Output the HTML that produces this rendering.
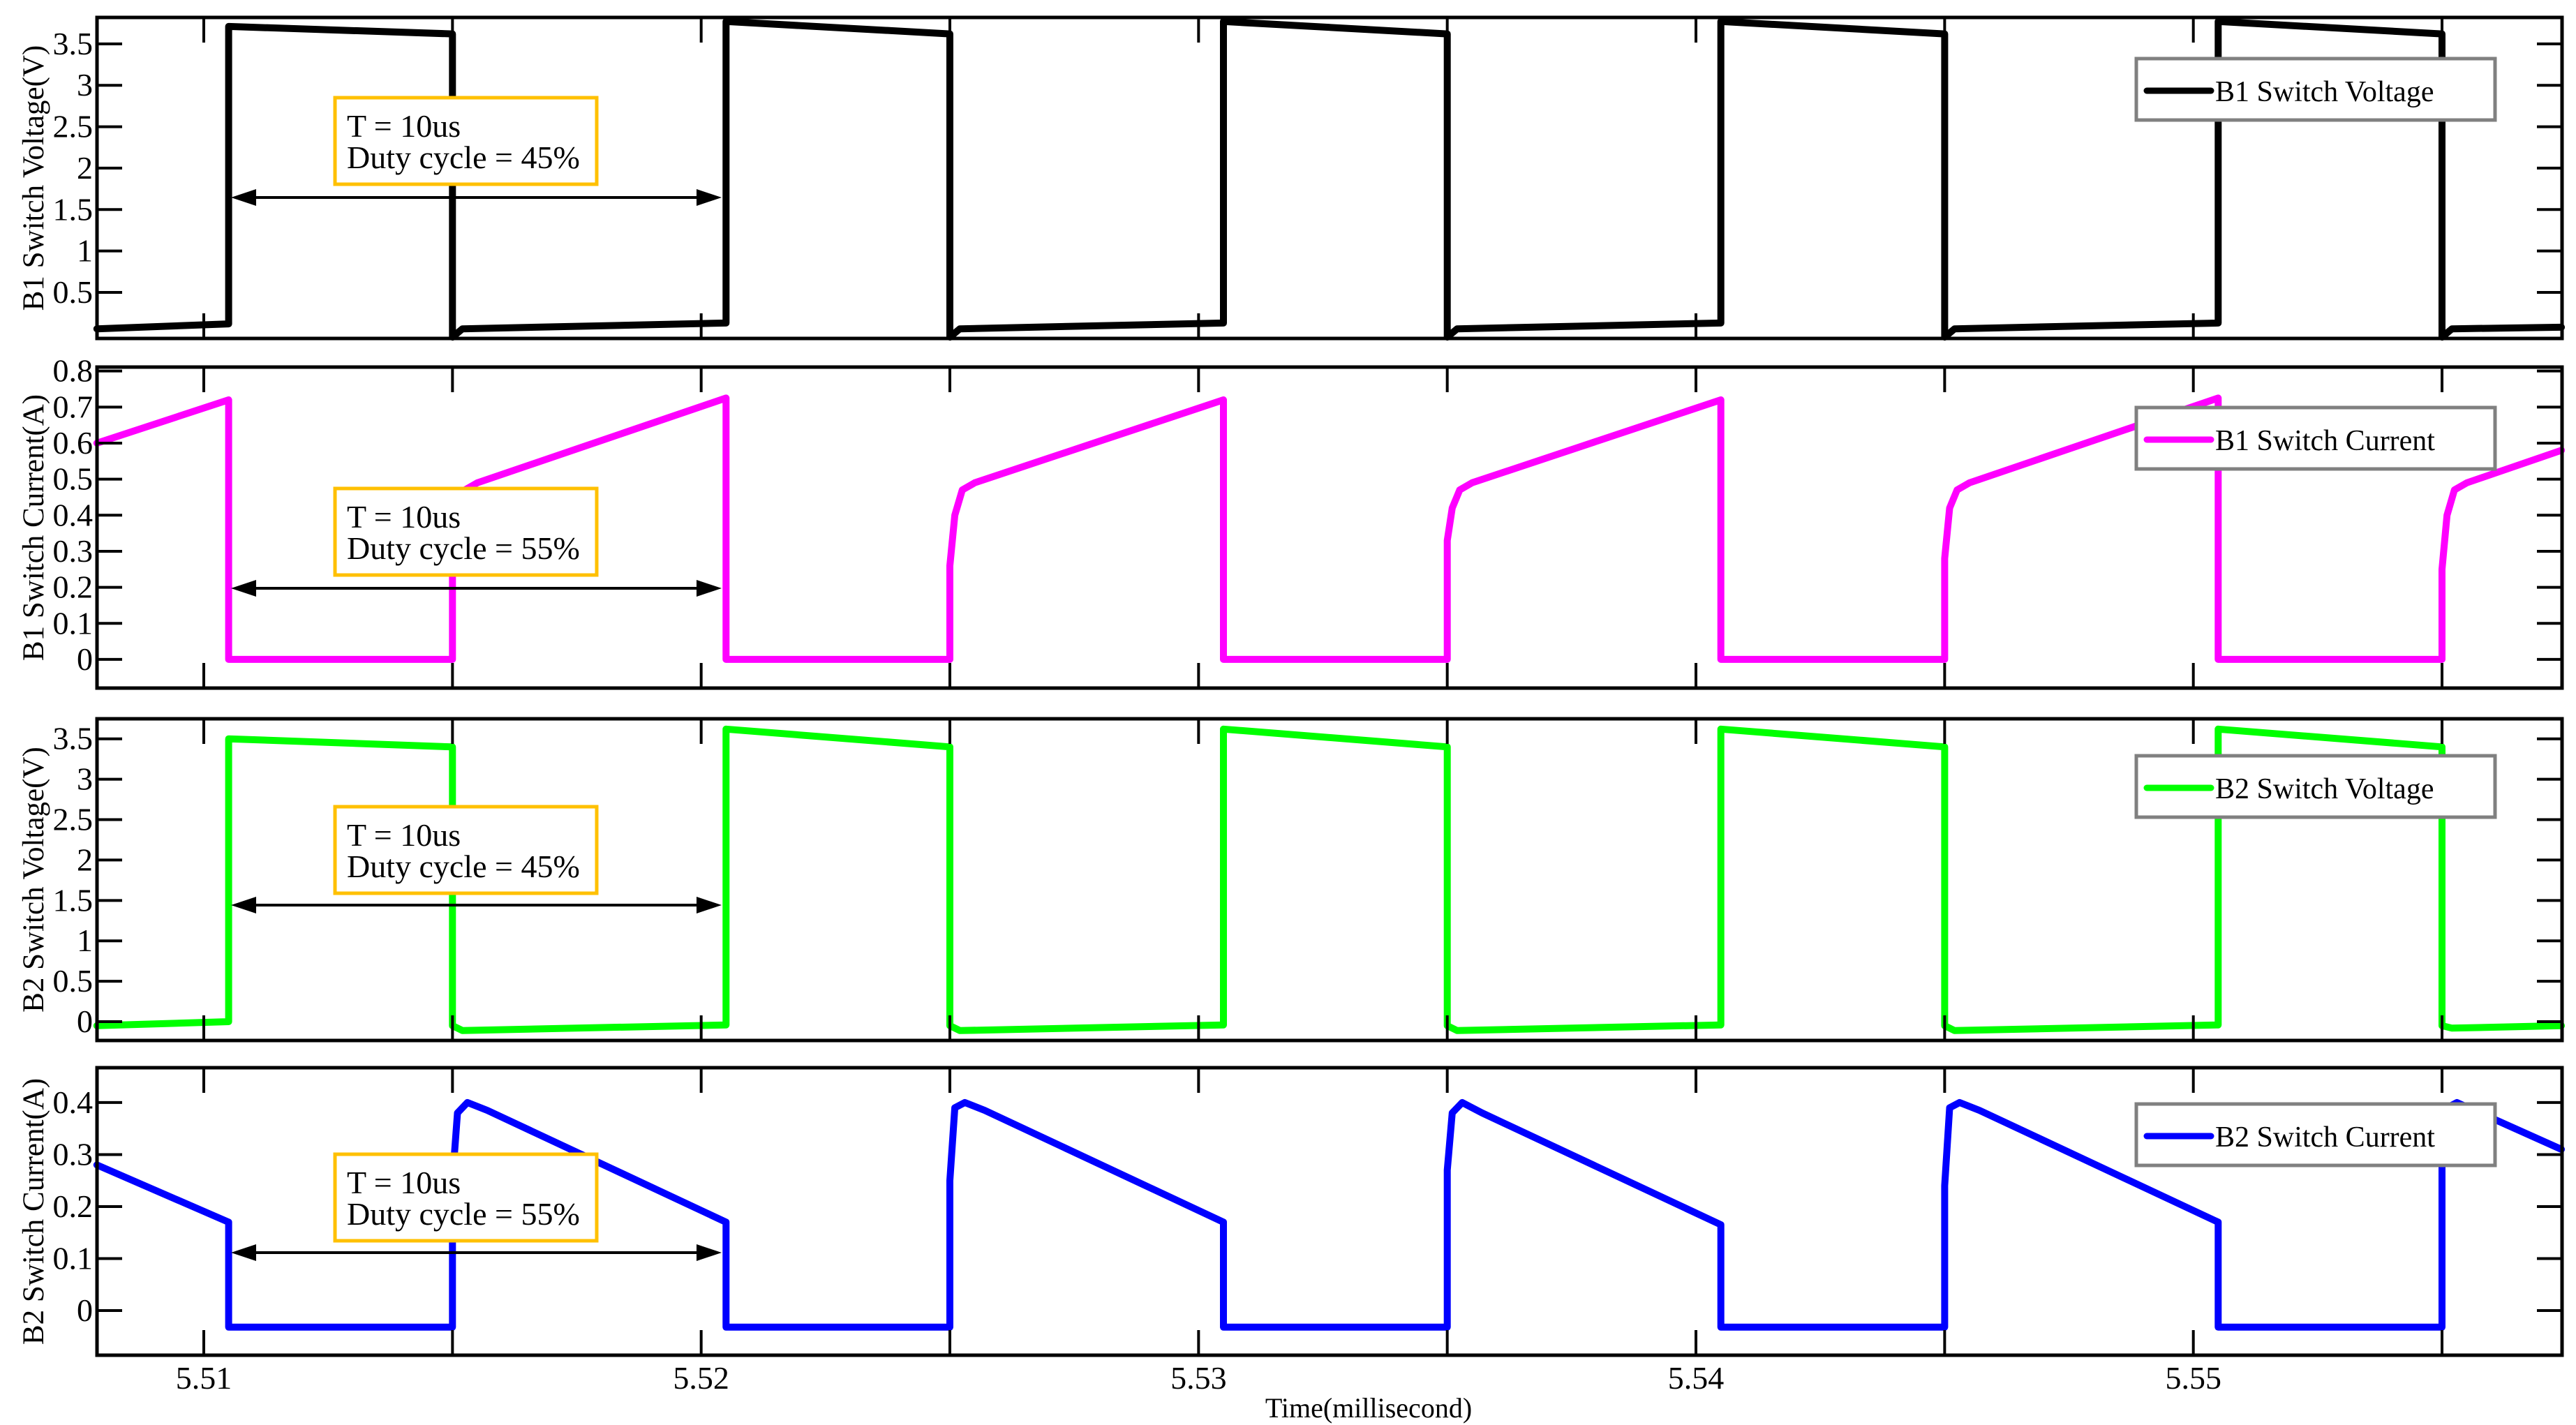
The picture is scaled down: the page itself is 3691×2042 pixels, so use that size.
<!DOCTYPE html>
<html><head><meta charset="utf-8">
<style>
html,body{margin:0;padding:0;background:#fff;}
svg{display:block;font-family:"Liberation Serif",serif;}
</style></head>
<body>
<svg id="chart" width="3691" height="2042" viewBox="0 0 3691 2042" xmlns="http://www.w3.org/2000/svg"></svg>
<script>
// ---- data (time in ms) ----
const xTickValues = [5.51,5.515,5.52,5.525,5.53,5.535,5.54,5.545,5.55,5.555];
const xTickLabels = ["5.51","","5.52","","5.53","","5.54","","5.55",""];
const b1VoltT = [5.50785,5.5105,5.5105,5.515,5.515,5.5152,5.5205,5.5205,5.525,5.525,5.5252,5.5305,5.5305,5.535,5.535,5.5352,5.5405,5.5405,5.545,5.545,5.5452,5.5505,5.5505,5.555,5.555,5.5552,5.5574];
const b1VoltV = [0.06,0.12,3.71,3.62,-0.04,0.06,0.13,3.77,3.62,-0.04,0.06,0.13,3.77,3.62,-0.04,0.06,0.13,3.77,3.62,-0.04,0.06,0.13,3.77,3.62,-0.04,0.06,0.08];
const b1CurT = [5.50785,5.5105,5.5105,5.515,5.515,5.5151,5.51525,5.5155,5.5205,5.5205,5.525,5.525,5.5251,5.52525,5.5255,5.5305,5.5305,5.535,5.535,5.5351,5.53525,5.5355,5.5405,5.5405,5.545,5.545,5.5451,5.54525,5.5455,5.5505,5.5505,5.555,5.555,5.5551,5.55525,5.5555,5.5574];
const b1CurV = [0.60,0.72,0,0,0.26,0.40,0.47,0.49,0.725,0,0,0.26,0.40,0.47,0.49,0.72,0,0,0.33,0.42,0.47,0.49,0.72,0,0,0.28,0.42,0.47,0.49,0.725,0,0,0.25,0.40,0.47,0.49,0.58];
const b2VoltT = [5.50785,5.5105,5.5105,5.515,5.515,5.5152,5.5205,5.5205,5.525,5.525,5.5252,5.5305,5.5305,5.535,5.535,5.5352,5.5405,5.5405,5.545,5.545,5.5452,5.5505,5.5505,5.555,5.555,5.5552,5.5574];
const b2VoltV = [-0.05,0.0,3.5,3.4,-0.05,-0.11,-0.04,3.62,3.4,-0.05,-0.11,-0.04,3.62,3.4,-0.05,-0.11,-0.04,3.62,3.4,-0.05,-0.11,-0.04,3.62,3.4,-0.05,-0.08,-0.05];
const b2CurT = [5.50785,5.5105,5.5105,5.515,5.515,5.5151,5.5153,5.5157,5.5205,5.5205,5.525,5.525,5.5251,5.5253,5.5257,5.5305,5.5305,5.535,5.535,5.5351,5.5353,5.5357,5.5405,5.5405,5.545,5.545,5.5451,5.5453,5.5457,5.5505,5.5505,5.555,5.555,5.5551,5.5553,5.5574];
const b2CurV = [0.28,0.17,-0.032,-0.032,0.25,0.38,0.40,0.385,0.17,-0.032,-0.032,0.25,0.39,0.40,0.385,0.17,-0.032,-0.032,0.27,0.38,0.40,0.38,0.165,-0.032,-0.032,0.24,0.39,0.40,0.385,0.17,-0.032,-0.032,0.30,0.39,0.40,0.31];
const p1Ticks = [0.5,1,1.5,2,2.5,3,3.5];
const p2Ticks = [0,0.1,0.2,0.3,0.4,0.5,0.6,0.7,0.8];
const p3Ticks = [0,0.5,1,1.5,2,2.5,3,3.5];
const p4Ticks = [0,0.1,0.2,0.3,0.4];

const NS = "http://www.w3.org/2000/svg";
const svg = document.getElementById('chart');
const X0 = 139, X1 = 3671, TMIN = 5.507853, TMAX = 5.557413;
function xs(t){ return X0 + (t - TMIN) / (TMAX - TMIN) * (X1 - X0); }
function mk(tag, attrs, parent){
  const e = document.createElementNS(NS, tag);
  for (const k in attrs) e.setAttribute(k, attrs[k]);
  (parent || svg).appendChild(e);
  return e;
}

const panels = [
  {key:'b1-voltage', top:25, bot:485, vmin:-0.056, vmax:3.819, ticks:p1Ticks, title:'B1 Switch Voltage(V)', legend:'B1 Switch Voltage', color:'#000000', T:b1VoltT, V:b1VoltV, duty:'45%', box:140, arrow:283, leg:84, xl:false},
  {key:'b1-current', top:526, bot:986, vmin:-0.0795, vmax:0.811, ticks:p2Ticks, title:'B1 Switch Current(A)', legend:'B1 Switch Current', color:'#ff00ff', T:b1CurT, V:b1CurV, duty:'55%', box:700, arrow:843, leg:584, xl:false},
  {key:'b2-voltage', top:1030, bot:1491, vmin:-0.233, vmax:3.748, ticks:p3Ticks, title:'B2 Switch Voltage(V)', legend:'B2 Switch Voltage', color:'#00ff00', T:b2VoltT, V:b2VoltV, duty:'45%', box:1156, arrow:1297, leg:1083, xl:false},
  {key:'b2-current', top:1530, bot:1942, vmin:-0.0859, vmax:0.467, ticks:p4Ticks, title:'B2 Switch Current(A)', legend:'B2 Switch Current', color:'#0000ff', T:b2CurT, V:b2CurV, duty:'55%', box:1654, arrow:1795, leg:1582, xl:true}
];

panels.forEach(p => {
  const g = mk('g', {});
  
  
  const ys = v => p.bot - (v - p.vmin) / (p.vmax - p.vmin) * (p.bot - p.top);
  const pts = p.T.map((t,i) => xs(t).toFixed(1) + ',' + ys(p.V[i]).toFixed(1)).join(' ');
  const line = mk('polyline', {points:pts, fill:'none', stroke:p.color, 'stroke-width':10, 'stroke-linejoin':'round', 'stroke-linecap':'round'}, g);
  
  
  const fr = mk('rect', {x:X0, y:p.top, width:X1-X0, height:p.bot-p.top, fill:'none', stroke:'#000', 'stroke-width':5}, g);
  
  
  xTickValues.forEach((t,i) => {
    const x = xs(t);
    mk('line', {x1:x, y1:p.bot, x2:x, y2:p.bot-36, stroke:'#000', 'stroke-width':4}, g);
    mk('line', {x1:x, y1:p.top, x2:x, y2:p.top+36, stroke:'#000', 'stroke-width':4}, g);
    if (p.xl && xTickLabels[i]) {
      const tx = mk('text', {x:x, y:1990, 'font-size':46, 'text-anchor':'middle', fill:'#000'}, g);
      tx.textContent = xTickLabels[i];
      
      
    }
  });
  p.ticks.forEach(v => {
    const y = ys(v);
    mk('line', {x1:X0, y1:y, x2:X0+36, y2:y, stroke:'#000', 'stroke-width':4}, g);
    mk('line', {x1:X1, y1:y, x2:X1-36, y2:y, stroke:'#000', 'stroke-width':4}, g);
    const tx = mk('text', {x:133, y:y+15, 'font-size':46, 'text-anchor':'end', fill:'#000'}, g);
    tx.textContent = String(v);
    
    
  });
  const cy = (p.top + p.bot) / 2;
  const tt = mk('text', {x:0, y:0, 'font-size':43, 'text-anchor':'middle', fill:'#000', transform:`translate(62,${cy}) rotate(-90)`}, g);
  tt.textContent = p.title;
  
  
  const ab = mk('rect', {x:480, y:p.box, width:375, height:124, fill:'#fff', stroke:'#ffc000', 'stroke-width':5}, g);
  
  
  const a1 = mk('text', {x:497, y:p.box+56, 'font-size':46, fill:'#000'}, g);
  a1.textContent = 'T = 10us';
  
  
  const a2 = mk('text', {x:497, y:p.box+101, 'font-size':46, fill:'#000'}, g);
  a2.textContent = 'Duty cycle = ' + p.duty;
  
  
  const ax0 = 331, ax1 = 1034, ay = p.arrow;
  const ar = mk('g', {}, g);
  
  
  mk('line', {x1:ax0+30, y1:ay, x2:ax1-30, y2:ay, stroke:'#000', 'stroke-width':4}, ar);
  mk('polygon', {points:`${ax0},${ay} ${ax0+36},${ay-12} ${ax0+36},${ay+12}`, fill:'#000'}, ar);
  mk('polygon', {points:`${ax1},${ay} ${ax1-36},${ay-12} ${ax1-36},${ay+12}`, fill:'#000'}, ar);
  const lg = mk('g', {}, g);
  
  
  mk('rect', {x:3061, y:p.leg, width:514, height:88, fill:'#fff', stroke:'#808080', 'stroke-width':5}, lg);
  mk('line', {x1:3076, y1:p.leg+46, x2:3168, y2:p.leg+46, stroke:p.color, 'stroke-width':9, 'stroke-linecap':'round'}, lg);
  const lt = mk('text', {x:3174, y:p.leg+61, 'font-size':42, fill:'#000'}, lg);
  lt.textContent = p.legend;
  
  
});

const xt = mk('text', {x:1961, y:2031, 'font-size':40, 'text-anchor':'middle', fill:'#000'});
xt.textContent = 'Time(millisecond)';


</script>
</body></html>
